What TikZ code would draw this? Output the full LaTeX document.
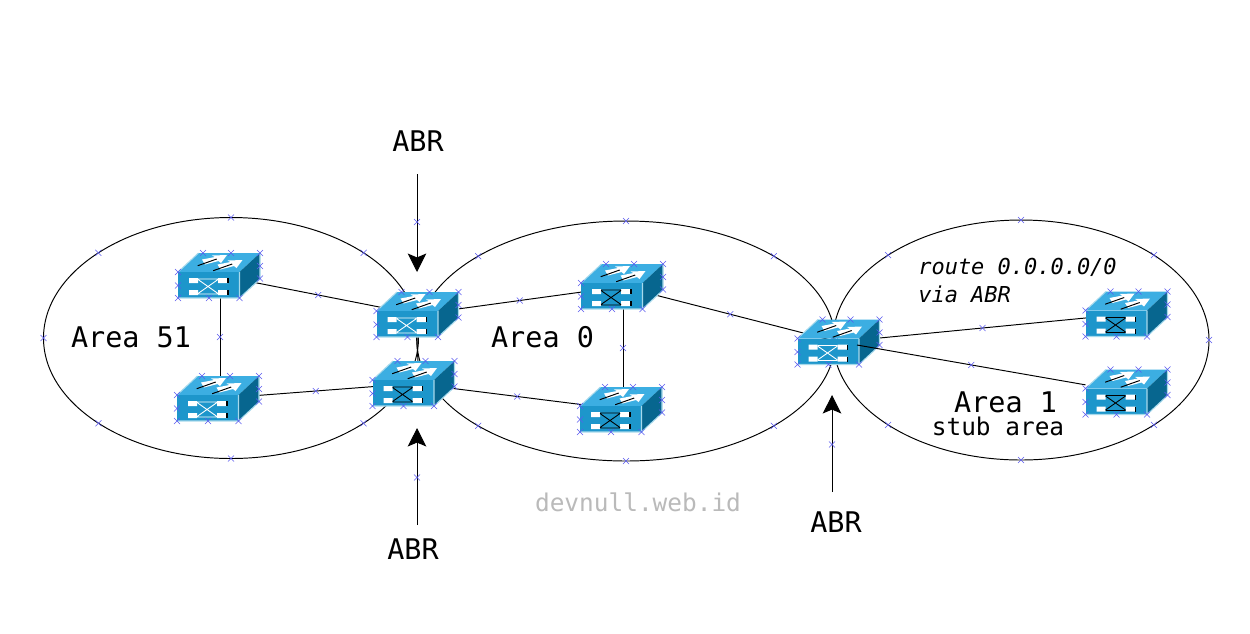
\documentclass[tikz,border=0pt]{standalone}
\usepackage{fontspec}
\setmonofont{DejaVu Sans Mono}
\usetikzlibrary{arrows.meta,shapes.geometric}
\newdimen\px
\px=0.02cm
\definecolor{swtop}{HTML}{3CAEE2}
\definecolor{swfront}{HTML}{1D96CB}
\definecolor{swside}{HTML}{07668F}
\definecolor{swedge}{HTML}{A6D9EC}
\definecolor{xmkblue}{HTML}{5A5AF0}
\tikzset{
	link/.style={line width=0.55pt},
	abrarrow/.style={link, ->, >={Stealth[length=10.5pt,width=10.5pt,inset=2.2pt]}},
	areablob/.style 2 args={draw, ellipse, line width=0.55pt, inner sep=0, outer sep=0, minimum width=#1\px, minimum height=#2\px},
	swbox/.style={rectangle, inner sep=0, outer sep=0, minimum width=82\px, minimum height=45\px},
	bigtxt/.style={font=\ttfamily\fontsize{16.2}{19}\selectfont},
	midtxt/.style={font=\ttfamily\fontsize{13.9}{16}\selectfont},
	routetxt/.style={font=\ttfamily\itshape\fontsize{12.5}{15}\selectfont, inner sep=0},
	pics/xmk/.style={code={
		\draw[-, xmkblue, line width=0.3pt] (-3,-3) -- (3,3) (-3,3) -- (3,-3);
	}},
	pics/swart/.style={code={
		\fill[swtop] (-41,-3.5) -- (-20.5,-22.5) -- (41,-22.5) -- (20.5,-3.5) -- cycle;
		\fill[swside] (20.5,-3.5) -- (41,-22.5) -- (41,3.5) -- (20.5,22.5) -- cycle;
		\fill[swfront] (-41,-3.5) rectangle (20.5,22.5);
		\draw[swedge, line width=0.6pt] (-41,-3.5) -- (-20.5,-22.5) (-41,22.5) -- (20.5,22.5) -- (20.5,-3.5) (20.5,22.5) -- (41,3.5) -- (41,-22.5);
		% arrows on the top face
		\foreach \ax/\ay in {0/0,15.5/5}{
			\fill[white, shift={(\ax,\ay)}] (-17,-16) -- (-4,-18.5) -- (-7,-20) -- (8,-20.5) -- (2,-12.5) -- (-0.5,-14.5) -- (-14,-11) -- cycle;
			\draw[black, line width=0.55pt, shift={(\ax,\ay)}] (-21.3,-9.8) -- (-2.3,-16.5);
		}
		% ports on the front face
		\fill[white] (-30,2.5) rectangle (-21,7.5) (-30,14.5) rectangle (-21,19.5) (-1,2.5) rectangle (9,7.5) (-1,14.5) rectangle (9,19.5);
		\draw[black, line width=0.6pt] (9,2.5) -- (9,7.5) (9,14.5) -- (9,19.5);
		\draw[#1, line width=0.5pt] (-21,3.5) -- (-1,3.5) (-21,18.5) -- (-1,18.5) (-21,4) -- (-1,18) (-21,18) -- (-1,4);
		% connection points
		\foreach \mx/\my in {-41/-3.5,-41/10,-41/22.5,-10/22.5,20.5/22.5,-16/-22.5,12/-22.5,41/-22.5,41/-9.5,41/3}
			\pic at (\mx,\my) {xmk};
	}},
}
\begin{document}
\begin{tikzpicture}[x=0.02cm, y=-0.02cm]
	\useasboundingbox (0,0) rectangle (1250,633);
	\fill[white] (0,0) rectangle (1250,633);
	% areas
	\node[areablob={375}{241}] (area51)at(231, 338) {};
	\node[areablob={418}{240}] (area0)at(626, 341) {};
	\node[areablob={376}{240}] (area1)at(1021, 340) {};
	\foreach \side in {north,north east,south east,south,south west,west,north west}
		\pic at (area51.\side) {xmk};
	\foreach \side in {north,north east,east,south east,south,south west,north west}
		\pic at (area0.\side) {xmk};
	\foreach \side in {north,north east,east,south east,south,south west,west,north west}
		\pic at (area1.\side) {xmk};
	% switches
	\node[swbox] (SwA)at(219, 275.5) {};
	\node[swbox] (SwB)at(218, 398.5) {};
	\node[swbox] (SwC)at(417.5, 314.5) {};
	\node[swbox] (SwD)at(413.5, 383.5) {};
	\node[swbox] (SwE)at(622, 286.5) {};
	\node[swbox] (SwF)at(621, 409.5) {};
	\node[swbox] (SwG)at(838.5, 342) {};
	\node[swbox] (SwH)at(1126.5, 314) {};
	\node[swbox] (SwI)at(1126.5, 392) {};
	% links
	\draw[link] ([xshift=1\px]SwA.south) -- ([xshift=2\px]SwB.north) pic[pos=.5] {xmk};
	\draw[link] (SwA.center) -- (SwC.center) pic[pos=.5] {xmk};
	\draw[link] (SwB.center) -- (SwD.center) pic[pos=.5] {xmk};
	\draw[link] ([xshift=-1\px]SwC.south) -- ([xshift=4.5\px]SwD.north);
	\draw[link] (SwC.center) -- (SwE.center) pic[pos=.5] {xmk};
	\draw[link] (SwD.center) -- (SwF.center) pic[pos=.5] {xmk};
	\draw[link] ([xshift=1\px]SwE.south) -- ([xshift=2\px]SwF.north) pic[pos=.5] {xmk};
	\draw[link] (SwE.center) -- (SwG.center) pic[pos=.5] {xmk};
	\draw[link] (SwG.center) -- (SwH.center) pic[pos=.5] {xmk};
	% texts
	\node[bigtxt] (t51)at(131, 337) {Area 51};
	\node[bigtxt] (t0)at(542.5, 337) {Area 0};
	\node[bigtxt] (t1)at(1005.5, 402) {Area 1};
	\node[midtxt] (tstub)at(998, 426) {stub area};
	\node[routetxt, anchor=west] (troute)at(918, 267) {route 0.0.0.0/0};
	\node[routetxt, anchor=west] (tvia)at(918, 294) {via ABR};
	\node[midtxt, text=black!27] (tdev)at(638, 502) {devnull.web.id};
	\node[bigtxt] (abrtop)at(418, 141) {ABR};
	\node[bigtxt] (abrlow)at(413, 549) {ABR};
	\node[bigtxt] (abrright)at(836, 522) {ABR};
	% arrows
	\coordinate (ptop)at(417, 174);
	\coordinate (htop)at(417, 272);
	\coordinate (plow)at(417, 525);
	\coordinate (hlow)at(417, 428);
	\coordinate (pright)at(832, 492);
	\coordinate (hright)at(832, 395);
	\draw[abrarrow] (ptop) -- (htop) pic[pos=.49] {xmk};
	\draw[abrarrow] (plow) -- (hlow) pic[pos=.49] {xmk};
	\draw[abrarrow] (pright) -- (hright) pic[pos=.49] {xmk};
	% switch icons
	\foreach \sw/\wire in {SwA/white,SwB/white,SwC/white,SwD/black,SwE/black,SwF/black,SwG/white,SwH/black,SwI/black}
		\pic at (\sw.center) {swart=\wire};
	\coordinate (portG)at(857, 345);
	\draw[link] (portG) -- (SwI) pic[pos=.5] {xmk};
\end{tikzpicture}
\end{document}
